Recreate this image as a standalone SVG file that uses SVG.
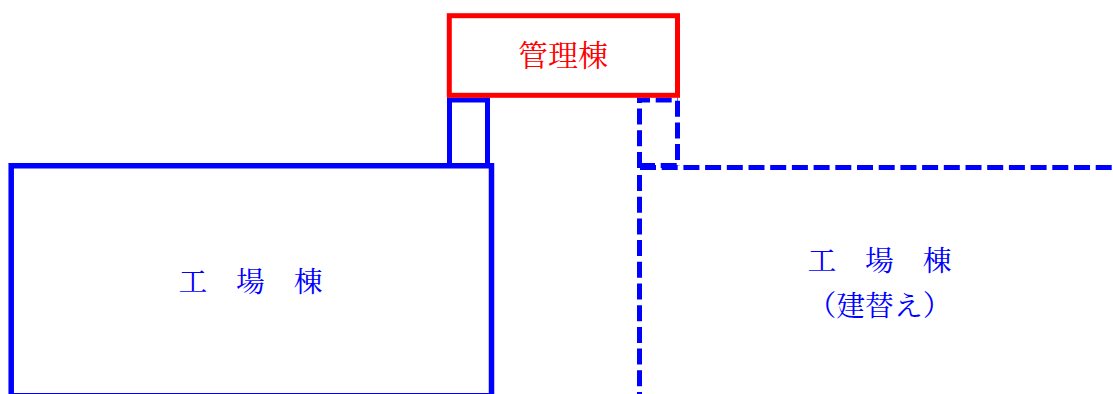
<svg xmlns="http://www.w3.org/2000/svg" width="1113" height="394" viewBox="0 0 1113 394">
<style>
.b{fill:none;stroke:#0000ff;stroke-width:5}
.d{stroke-dasharray:16 5.700}
.t{font-family:"Noto Serif CJK JP","Noto Sans CJK JP",serif;font-size:28.800px}
.tb{fill:#0000ff}
</style>
<rect width="1113" height="394" fill="#fff"/>
<g id="kojo-new">
<path class="b d" d="M639.500 175V394"/>
<path class="b d" d="M640 167.500H1113"/>
<path class="b d" d="M639.500 168V100"/>
<path class="b d" stroke-dashoffset="3" d="M637 100H678"/>
<path class="b d" d="M677.500 100.700V166"/>
<path class="b d" d="M639 165.500H677"/>
<text class="t tb" x="807.500" y="271">工　場　棟</text>
<text class="t tb" x="807.500" y="316">（建替え）</text>
</g>
<g id="kojo-old">
<rect class="b" x="449.500" y="100" width="38" height="65.500"/>
<path class="b" style="stroke-width:5.500" d="M11.200 394V165.700H491.500V394"/>
<path d="M11 393.500H492" stroke="#0000ff" stroke-width="1" fill="none"/>
<text class="t tb" x="178.500" y="292">工　場　棟</text>
</g>
<g id="kanri">
<rect x="449.300" y="15.700" width="228.200" height="79.600" fill="#fff" stroke="#ff0000" stroke-width="5"/>
<text class="t" x="518" y="66" fill="#ff0000" style="font-size:30px">管理棟</text>
</g>
</svg>
